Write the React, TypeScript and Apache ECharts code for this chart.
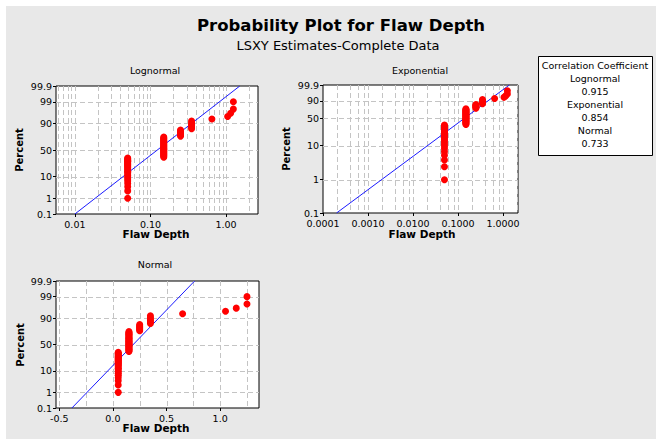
import React, { useEffect, useRef } from "react";
import * as echarts from "echarts";

// ---- data ----
const flawDepth = [0.05, 0.15, 0.25, 0.35, 0.65, 1.05, 1.15, 1.25];
const flawCount = [25, 27, 7, 6, 1, 1, 1, 2];

const percentTicks = [0.1, 1, 10, 50, 90, 99, 99.9];
const percentLabels = ["0.1", "1", "10", "50", "90", "99", "99.9"];
const expPercentTicks = [0.1, 1, 10, 50, 90, 99.9];
const expPercentLabels = ["0.1", "1", "10", "50", "90", "99.9"];

const logXTicks = [0.01, 0.1, 1];
const logXLabels = ["0.01", "0.10", "1.00"];
const logXMinorMult = [2, 3, 4, 5, 6, 7, 8, 9];
const expXTicks = [0.0001, 0.001, 0.01, 0.1, 1];
const expXLabels = ["0.0001", "0.0010", "0.0100", "0.1000", "1.0000"];
const expXMinorMult = [2, 4, 6, 8];
const normXTicks = [-0.5, 0, 0.5, 1.0];
const normXLabels = ["-0.5", "0.0", "0.5", "1.0"];
const normXGrid = [-0.5, -0.25, 0, 0.25, 0.5, 0.75, 1.0, 1.25];

const corrNames = ["Lognormal", "Exponential", "Normal"];
const corrValues = ["0.915", "0.854", "0.733"];

// LSXY fitted lines
const lognormalFit = { loc: -0.909, scale: 0.353 }; // log10 units
const exponentialFit = { theta: 0.2 };
const normalFit = { mu: 0.19, sigma: 0.185 };

// axis ranges (in axis units)
const logXRange = [-2.25, 0.423];
const expXRange = [-4, 0.333];
const normXRange = [-0.53, 1.362];

// ---- helpers ----
function normInv(p: number): number {
  const a = [-3.969683028665376e1, 2.209460984245205e2, -2.759285104469687e2, 1.38357751867269e2, -3.066479806614716e1, 2.506628277459239];
  const b = [-5.447609879822406e1, 1.615858368580409e2, -1.556989798598866e2, 6.680131188771972e1, -1.328068155288572e1];
  const c = [-7.784894002430293e-3, -3.223964580411365e-1, -2.400758277161838, -2.549732539343734, 4.374664141464968, 2.938163982698783];
  const d = [7.784695709041462e-3, 3.224671290700398e-1, 2.445134137142996, 3.754408661907416];
  const pl = 0.02425;
  if (p < pl) {
    const q = Math.sqrt(-2 * Math.log(p));
    return (((((c[0] * q + c[1]) * q + c[2]) * q + c[3]) * q + c[4]) * q + c[5]) / ((((d[0] * q + d[1]) * q + d[2]) * q + d[3]) * q + 1);
  }
  if (p <= 1 - pl) {
    const q = p - 0.5;
    const r = q * q;
    return ((((((a[0] * r + a[1]) * r + a[2]) * r + a[3]) * r + a[4]) * r + a[5]) * q) / (((((b[0] * r + b[1]) * r + b[2]) * r + b[3]) * r + b[4]) * r + 1);
  }
  const q = Math.sqrt(-2 * Math.log(1 - p));
  return -(((((c[0] * q + c[1]) * q + c[2]) * q + c[3]) * q + c[4]) * q + c[5]) / ((((d[0] * q + d[1]) * q + d[2]) * q + d[3]) * q + 1);
}
const expY = (p: number) => Math.log10(-Math.log(1 - p));

const FONT = "DejaVu Sans";
const GRIDC = "#c4c4c4";

export default function App() {
  const ref = useRef<HTMLDivElement>(null);
  useEffect(() => {
    const chart = echarts.init(ref.current!, null, { renderer: "svg" });

    // expand observations and plotting positions (Benard median ranks)
    const obs: number[] = [];
    flawDepth.forEach((v, i) => {
      for (let k = 0; k < flawCount[i]; k++) obs.push(v);
    });
    const n = obs.length;
    const probs = obs.map((_, i) => (i + 1 - 0.3) / (n + 0.4));

    const zTicks = percentTicks.map((p) => normInv(p / 100));
    const eTicks = expPercentTicks.map((p) => expY(p / 100));
    const zMin = zTicks[0];
    const zMax = zTicks[zTicks.length - 1];
    const eMin = eTicks[0];
    const eMax = eTicks[eTicks.length - 1];

    const pickLabel = (vals: number[], labels: string[]) => (v: number) => {
      let best = 0;
      vals.forEach((t, i) => {
        if (Math.abs(t - v) < Math.abs(vals[best] - v)) best = i;
      });
      return labels[best];
    };

    const logMinor = (mults: number[], lo: number, hi: number) => {
      const out: number[] = [];
      for (let e = -6; e <= 2; e++) {
        mults.forEach((m) => {
          const v = Math.log10(m * Math.pow(10, e));
          if (v > lo + 1e-6 && v < hi - 1e-6) out.push(v);
        });
        if (e > lo + 1e-6 && e < hi - 1e-6) out.push(e);
      }
      return out;
    };

    const axBase = (gi: number, range: number[], vals: number[], labels: string[], margin: number) => ({
      type: "value",
      gridIndex: gi,
      min: range[0],
      max: range[1],
      axisLine: { show: false, onZero: false },
      splitLine: { show: false },
      axisTick: { show: true, customValues: vals, length: 3, lineStyle: { color: "#000" } },
      axisLabel: {
        show: true,
        customValues: vals,
        margin,
        showMinLabel: true,
        showMaxLabel: true,
        hideOverlap: false,
        fontFamily: FONT,
        fontSize: 9.5,
        color: "#000",
        formatter: pickLabel(vals, labels),
      },
    });

    const vLines = (gi: number, xs: number[], y0: number, y1: number) => ({
      type: "custom",
      xAxisIndex: gi,
      yAxisIndex: gi,
      z: 1,
      silent: true,
      data: xs.map((v) => [v, (y0 + y1) / 2]),
      renderItem: (_p: any, api: any) => {
        const x = api.value(0);
        const a = api.coord([x, y0]);
        const b = api.coord([x, y1]);
        const px = Math.round(a[0]) + 0.5;
        return {
          type: "line",
          shape: { x1: px, y1: b[1], x2: px, y2: a[1] },
          style: { stroke: GRIDC, lineWidth: 1, lineDash: [5, 3] },
        };
      },
    });
    const hLines = (gi: number, ys: number[], x0: number, x1: number) => ({
      type: "custom",
      xAxisIndex: gi,
      yAxisIndex: gi,
      z: 1,
      silent: true,
      data: ys.map((v) => [(x0 + x1) / 2, v]),
      renderItem: (_p: any, api: any) => {
        const y = api.value(1);
        const a = api.coord([x0, y]);
        const b = api.coord([x1, y]);
        const py = Math.round(a[1]) + 0.5;
        return {
          type: "line",
          shape: { x1: a[0], y1: py, x2: b[0], y2: py },
          style: { stroke: GRIDC, lineWidth: 1, lineDash: [5, 3] },
        };
      },
    });
    const fitLine = (gi: number, pts: number[][]) => ({
      type: "line",
      xAxisIndex: gi,
      yAxisIndex: gi,
      z: 2,
      silent: true,
      symbol: "none",
      lineStyle: { color: "#1a1aff", width: 1 },
      data: pts,
    });
    const pts = (gi: number, data: number[][]) => ({
      type: "scatter",
      xAxisIndex: gi,
      yAxisIndex: gi,
      z: 3,
      silent: true,
      symbol: "circle",
      symbolSize: 7,
      itemStyle: { color: "#ff0000", opacity: 1 },
      data,
    });

    const zInner = zTicks.slice(1, -1);
    const eInner = eTicks.slice(1, -1);

    const logMajor = logXTicks.map((v) => Math.log10(v));
    const expMajor = expXTicks.map((v) => Math.log10(v));

    const lognormalPts = obs.map((v, i) => [Math.log10(v), normInv(probs[i])]);
    const exponentialPts = obs.map((v, i) => [Math.log10(v), expY(probs[i])]);
    const normalPts = obs.map((v, i) => [v, normInv(probs[i])]);

    const lnLine = [
      [lognormalFit.loc + lognormalFit.scale * zMin, zMin],
      [lognormalFit.loc + lognormalFit.scale * zMax, zMax],
    ];
    const exLine = [
      [eMin + Math.log10(exponentialFit.theta), eMin],
      [eMax + Math.log10(exponentialFit.theta), eMax],
    ];
    const nmLine = [
      [normalFit.mu + normalFit.sigma * zMin, zMin],
      [normalFit.mu + normalFit.sigma * zMax, zMax],
    ];

    const gridBase = { show: true, backgroundColor: "#ffffff", borderColor: "#000000", borderWidth: 1, containLabel: false };

    const txt = (text: string, x: number, y: number, size: number, weight: any = "normal", extra: any = {}) => ({
      type: "text",
      x,
      y,
      silent: true,
      ...extra,
      style: {
        text,
        fill: "#000",
        fontFamily: FONT,
        fontSize: size,
        fontWeight: weight,
        textAlign: "center",
        textVerticalAlign: "middle",
      },
    });

    const boxLines: any[] = [txt("Correlation Coefficient", 595, 65, 9.5)];
    corrNames.forEach((name, i) => {
      boxLines.push(txt(name, 595, 78 + i * 26, 9.5));
      boxLines.push(txt(corrValues[i], 595, 91 + i * 26, 9.5));
    });

    const option: any = {
      animation: false,
      backgroundColor: "#e8e8e8",
      grid: [
        { ...gridBase, left: 56, top: 86, width: 202, height: 128 },
        { ...gridBase, left: 323, top: 85, width: 195, height: 128 },
        { ...gridBase, left: 56, top: 281, width: 203, height: 127 },
      ],
      xAxis: [
        axBase(0, logXRange, logMajor, logXLabels, 5),
        axBase(1, expXRange, expMajor, expXLabels, 5),
        axBase(2, normXRange, normXTicks, normXLabels, 5),
      ],
      yAxis: [
        axBase(0, [zMin, zMax], zTicks, percentLabels, 4),
        axBase(1, [eMin, eMax], eTicks, expPercentLabels, 4),
        axBase(2, [zMin, zMax], zTicks, percentLabels, 4),
      ],
      series: [
        vLines(0, logMinor(logXMinorMult, logXRange[0], logXRange[1]), zMin, zMax),
        hLines(0, zInner, logXRange[0], logXRange[1]),
        fitLine(0, lnLine),
        pts(0, lognormalPts),
        vLines(1, logMinor(expXMinorMult, expXRange[0], expXRange[1]), eMin, eMax),
        hLines(1, eInner, expXRange[0], expXRange[1]),
        fitLine(1, exLine),
        pts(1, exponentialPts),
        vLines(2, normXGrid.filter((v) => v > normXRange[0] && v < normXRange[1]), zMin, zMax),
        hLines(2, zInner, normXRange[0], normXRange[1]),
        fitLine(2, nmLine),
        pts(2, normalPts),
      ],
      graphic: [
        { type: "rect", shape: { x: 0, y: 0, width: 656, height: 6 }, style: { fill: "#ffffff" }, silent: true },
        { type: "rect", shape: { x: 0, y: 0, width: 6, height: 439 }, style: { fill: "#ffffff" }, silent: true },
        txt("Probability Plot for Flaw Depth", 341, 25, 16.5, "bold"),
        txt("LSXY Estimates-Complete Data", 338, 45, 13),
        txt("Lognormal", 155, 70, 9.5),
        txt("Exponential", 420, 70, 9.5),
        txt("Normal", 155, 264, 9.5),
        txt("Percent", 19, 150, 10, "bold", { rotation: Math.PI / 2 }),
        txt("Percent", 286, 149, 10, "bold", { rotation: Math.PI / 2 }),
        txt("Percent", 20, 345, 10, "bold", { rotation: Math.PI / 2 }),
        txt("Flaw Depth", 156, 234, 10.5, "bold"),
        txt("Flaw Depth", 422, 234, 10.5, "bold"),
        txt("Flaw Depth", 156, 428, 10.5, "bold"),
        { type: "rect", shape: { x: 538.5, y: 56.5, width: 114, height: 99 }, style: { fill: "#ffffff", stroke: "#000000", lineWidth: 1 }, silent: true },
        ...boxLines,
      ],
    };

    chart.setOption(option);
    return () => chart.dispose();
  }, []);
  return <div ref={ref} style={{ position: "absolute", left: 0, top: 0, width: 656, height: 439 }} />;
}
